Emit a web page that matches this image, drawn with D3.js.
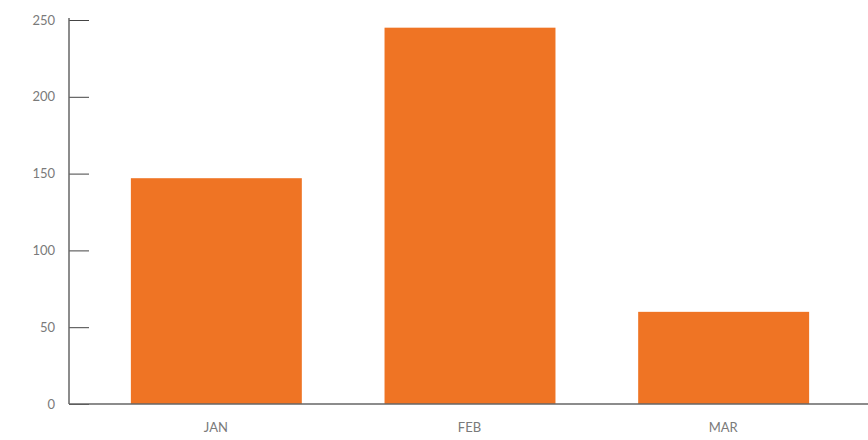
<!DOCTYPE html>
<html>
<head>
<meta charset="utf-8">
<script src="https://cdn.jsdelivr.net/npm/d3@7"></script>
<style>
  body { margin: 0; background: #fff; }
  svg text { font-family: Lato, "Open Sans", sans-serif; font-weight: 400; fill: #7a7a7a; }
</style>
</head>
<body>
<svg id="chart" width="868" height="440"></svg>
<script>
'use strict';

// Chart data
const months = ['JAN', 'FEB', 'MAR'];
const values = [147, 245, 60];
const yTicks = [0, 50, 100, 150, 200, 250];

const svg = d3.select('#chart');
const margin = { left: 69, right: 0, top: 20, bottom: 36 };
const width = 868, height = 440;

const x = d3.scaleBand()
    .domain(months)
    .range([margin.left, width - margin.right])
    .paddingInner(0.33)
    .paddingOuter(0.24);

const y = d3.scaleLinear()
    .domain([0, 250])
    .range([height - margin.bottom, margin.top]);

// Bars
svg.selectAll('rect.bar')
    .data(values)
    .enter()
    .append('rect')
    .attr('class', 'bar')
    .attr('x', (_, i) => x(months[i]) + 1)
    .attr('y', d => y(d))
    .attr('width', x.bandwidth() + 1)
    .attr('height', d => y(0) - y(d))
    .attr('fill', '#ef7424');

// Y axis: ticks point inward
const yAxis = svg.append('g')
    .attr('transform', `translate(${margin.left},0)`)
    .call(d3.axisRight(y).tickValues(yTicks).tickSize(20).tickFormat(''));
yAxis.select('.domain').remove();
yAxis.selectAll('line').attr('stroke', '#444').attr('stroke-width', 1);

svg.append('line')
    .attr('x1', margin.left).attr('x2', margin.left)
    .attr('y1', y(250) - 2).attr('y2', y(0))
    .attr('stroke', '#666').attr('stroke-width', 1.5);

svg.selectAll('text.ylab')
    .data(yTicks)
    .enter()
    .append('text')
    .attr('class', 'ylab')
    .attr('x', 55)
    .attr('y', d => y(d) + 4.5)
    .attr('text-anchor', 'end')
    .attr('font-size', 13)
    .text(d => d);

// X axis
svg.append('line')
    .attr('x1', margin.left).attr('x2', width)
    .attr('y1', y(0)).attr('y2', y(0))
    .attr('stroke', '#666').attr('stroke-width', 1.5);

svg.selectAll('text.xlab')
    .data(months)
    .enter()
    .append('text')
    .attr('class', 'xlab')
    .attr('x', d => x(d) + x.bandwidth() / 2 + 1)
    .attr('y', y(0) + 28)
    .attr('text-anchor', 'middle')
    .attr('font-size', 13)
    .text(d => d);
</script>
</body>
</html>
